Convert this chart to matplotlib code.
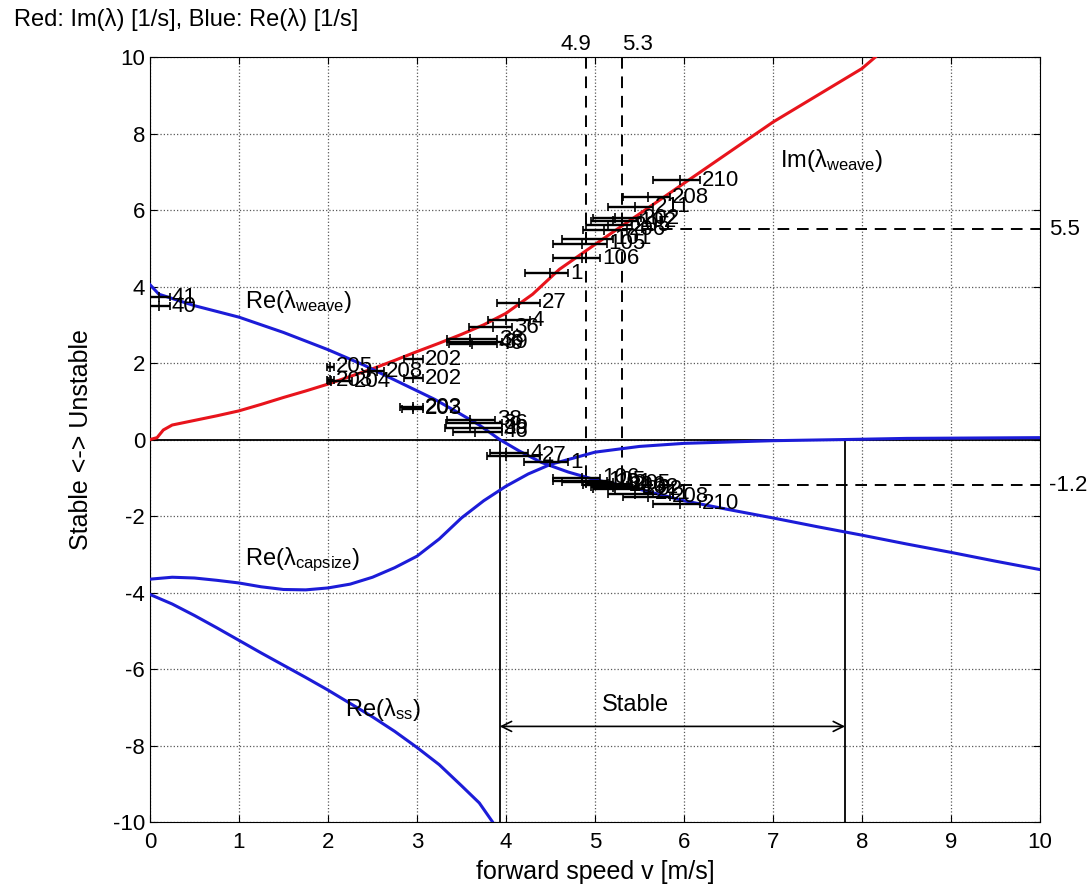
import matplotlib
matplotlib.use("Agg")
import matplotlib.pyplot as plt

plt.rcParams['font.family'] = ['Liberation Sans', 'DejaVu Sans']
plt.rcParams['mathtext.fontset'] = 'custom'
plt.rcParams['mathtext.rm'] = 'Liberation Sans'
plt.rcParams['mathtext.it'] = 'Liberation Sans'
plt.rcParams['axes.unicode_minus'] = False

# eigenvalue curves (speed v [m/s] -> value [1/s])
v_im = [0, 0.08, 0.15, 0.25, 0.5, 0.75, 1, 1.25, 1.5, 1.75, 2, 2.25, 2.5, 2.75, 3, 3.25, 3.5, 3.75, 4,
        4.3, 4.6, 5, 5.25, 5.5, 5.75, 6, 6.25, 6.5, 6.75, 7, 7.25, 7.5, 7.75, 8, 8.15]
im_weave = [0, 0.05, 0.25, 0.38, 0.5, 0.62, 0.75, 0.92, 1.1, 1.27, 1.45, 1.65, 1.85, 2.07, 2.3, 2.52, 2.75,
            3.0, 3.3, 3.8, 4.45, 5.1, 5.5, 5.9, 6.3, 6.7, 7.1, 7.5, 7.9, 8.3, 8.65, 9.0, 9.35, 9.7, 10.0]

v_weave = [0, 0.1, 0.5, 1, 1.5, 2, 2.4, 2.8, 3.2, 3.45, 3.7, 3.93, 4.15, 4.4, 4.7, 5, 5.5, 6, 6.5, 7,
           7.5, 8, 8.5, 9, 9.5, 10]
re_weave = [4.05, 3.8, 3.5, 3.2, 2.8, 2.35, 1.95, 1.5, 1.05, 0.72, 0.38, 0, -0.3, -0.6, -0.85, -1.05,
            -1.3, -1.6, -1.83, -2.05, -2.28, -2.5, -2.73, -2.95, -3.18, -3.4]

v_cap = [0, 0.25, 0.5, 0.75, 1, 1.25, 1.5, 1.75, 2, 2.25, 2.5, 2.75, 3, 3.25, 3.5, 3.75, 4, 4.25, 4.5,
         5, 5.5, 6, 7, 7.8, 8.5, 10]
re_capsize = [-3.65, -3.6, -3.62, -3.68, -3.75, -3.85, -3.92, -3.93, -3.88, -3.78, -3.6, -3.35, -3.05,
              -2.6, -2.05, -1.6, -1.22, -0.9, -0.65, -0.33, -0.18, -0.1, -0.03, 0.0, 0.03, 0.05]

v_ss = [0, 0.25, 0.5, 0.75, 1, 1.25, 1.5, 1.75, 2, 2.25, 2.5, 2.75, 3, 3.25, 3.5, 3.7, 3.85]
re_ss = [-4.05, -4.3, -4.6, -4.92, -5.25, -5.58, -5.9, -6.22, -6.55, -6.9, -7.25, -7.63, -8.05, -8.5,
         -9.05, -9.5, -10]

# measured runs: label, speed low / mean / high, value
im_runs = ['27', '4', '36', '38', '39', '46', '1', '106', '105', '101', '206', '205', '102', '202', '211', '208', '210']
im_lo = [3.9, 3.8, 3.58, 3.34, 3.34, 3.36, 4.21, 4.53, 4.53, 4.63, 4.87, 4.9, 4.95, 4.98, 5.15, 5.31, 5.65]
im_mid = [4.15, 4.0, 3.85, 3.6, 3.6, 3.62, 4.5, 4.85, 4.85, 4.9, 5.1, 5.15, 5.2, 5.22, 5.45, 5.6, 5.95]
im_hi = [4.38, 4.27, 4.07, 3.9, 3.95, 3.9, 4.7, 5.06, 5.13, 5.2, 5.36, 5.42, 5.48, 5.52, 5.65, 5.84, 6.18]
im_val = [3.57, 3.12, 2.94, 2.62, 2.55, 2.5, 4.35, 4.74, 5.12, 5.25, 5.48, 5.6, 5.71, 5.78, 6.08, 6.34, 6.78]

re_runs = ['41', '40', '205', '203', '204', '208', '202', '202', '202', '203', '38', '36', '39', '46',
           '4', '27', '1', '106', '105', '101', '205', '206', '102', '202', '211', '208', '210']
re_lo = [0.0, 0.0, 1.99, 1.99, 2.0, 2.45, 2.85, 2.85, 2.81, 2.83, 3.34, 3.33, 3.31, 3.4,
         3.82, 3.79, 4.2, 4.53, 4.53, 4.63, 4.9, 4.87, 4.95, 4.98, 5.15, 5.31, 5.65]
re_mid = [0.1, 0.1, 2.02, 2.02, 2.03, 2.55, 2.95, 2.95, 2.95, 2.95, 3.6, 3.6, 3.6, 3.65,
          4.0, 4.0, 4.5, 4.85, 4.85, 4.9, 5.15, 5.1, 5.2, 5.22, 5.45, 5.6, 5.95]
re_hi = [0.22, 0.22, 2.07, 2.07, 2.27, 2.63, 3.07, 3.07, 3.07, 3.07, 3.88, 3.95, 3.95, 3.95,
         4.25, 4.38, 4.7, 5.06, 5.13, 5.2, 5.42, 5.36, 5.5, 5.55, 5.65, 5.84, 6.18]
re_val = [3.72, 3.49, 1.9, 1.55, 1.52, 1.78, 2.1, 1.6, 0.85, 0.8, 0.52, 0.42, 0.3, 0.2,
          -0.36, -0.42, -0.6, -1.0, -1.08, -1.12, -1.15, -1.2, -1.25, -1.3, -1.42, -1.5, -1.68]

# stability limits and reference values
v_stable_lo = 3.93
v_stable_hi = 7.81
v_ref = [4.9, 5.3]
val_ref = [5.5, -1.2]

fig = plt.figure(figsize=(10.89, 8.86), dpi=100)
ax = fig.add_axes([0.1377, 0.0722, 0.8173, 0.8634])

ax.plot(v_im, im_weave, color='#e8141c', lw=2.2, zorder=3)
ax.plot(v_weave, re_weave, color='#1c1cd8', lw=2.2, zorder=3)
ax.plot(v_cap, re_capsize, color='#1c1cd8', lw=2.2, zorder=3)
ax.plot(v_ss, re_ss, color='#1c1cd8', lw=2.2, zorder=3)


def draw_runs(runs, lo, mid, hi, val):
    for r, a, m, b, y in zip(runs, lo, mid, hi, val):
        ax.errorbar(m, y, xerr=[[m - a], [b - m]], fmt='none', ecolor='k', elinewidth=1.7,
                    capsize=3, capthick=1.2, zorder=4)
        ax.plot(m, y, marker='|', color='k', ms=7, mew=1.2, zorder=4)
        ax.text(b + 0.02, y, r, fontsize=16, ha='left', va='center', zorder=5)


draw_runs(im_runs, im_lo, im_mid, im_hi, im_val)
draw_runs(re_runs, re_lo, re_mid, re_hi, re_val)

# zero line and stable region
ax.axhline(0, color='k', lw=1.3, zorder=2)
ax.plot([v_stable_lo, v_stable_lo], [-10, 0], color='k', lw=1.3)
ax.plot([v_stable_hi, v_stable_hi], [-10, 0], color='k', lw=1.3)
ax.annotate('', xy=(v_stable_lo, -7.5), xytext=(v_stable_hi, -7.5),
            arrowprops=dict(arrowstyle='<->', color='k', lw=1.2, mutation_scale=18, shrinkA=0, shrinkB=0))
ax.text(5.45, -6.95, 'Stable', fontsize=17, ha='center', va='center')

# reference speed / eigenvalue lines
for v in v_ref:
    ax.plot([v, v], [10, val_ref[1]], color='k', ls='--', lw=1.4, dashes=(6, 4))
ax.text(v_ref[0] + 0.06, 10.05, '4.9', fontsize=16, ha='right', va='bottom')
ax.text(v_ref[1], 10.05, '5.3', fontsize=16, ha='left', va='bottom')
for y in val_ref:
    ax.plot([v_ref[1], 10], [y, y], color='k', ls='--', lw=1.4, dashes=(6, 4))
    ax.text(10.1, y, '%g' % y, fontsize=16, ha='left', va='center', clip_on=False)

ax.text(1.07, 3.6, r'Re(λ$_{\mathrm{weave}}$)', fontsize=17, ha='left', va='center')
ax.text(7.08, 7.3, r'Im(λ$_{\mathrm{weave}}$)', fontsize=17, ha='left', va='center')
ax.text(1.07, -3.15, r'Re(λ$_{\mathrm{capsize}}$)', fontsize=17, ha='left', va='center')
ax.text(2.19, -7.07, r'Re(λ$_{\mathrm{ss}}$)', fontsize=17, ha='left', va='center')

ax.set_xlim(0, 10)
ax.set_ylim(-10, 10)
ax.set_xticks(range(0, 11))
ax.set_yticks(range(-10, 11, 2))
ax.tick_params(direction='in', top=True, right=True, labelsize=16, length=5)
ax.tick_params(axis='x', pad=7)
ax.grid(True, color='0.35', linestyle=':', lw=0.9)
ax.set_axisbelow(True)
ax.set_xlabel('forward speed v [m/s]', fontsize=18, labelpad=5)
ax.set_ylabel('Stable <-> Unstable', fontsize=18, labelpad=14)
fig.text(0.013, 0.978, 'Red: Im(λ) [1/s], Blue: Re(λ) [1/s]', fontsize=17, ha='left', va='center')

plt.savefig('out.png', dpi=100)
